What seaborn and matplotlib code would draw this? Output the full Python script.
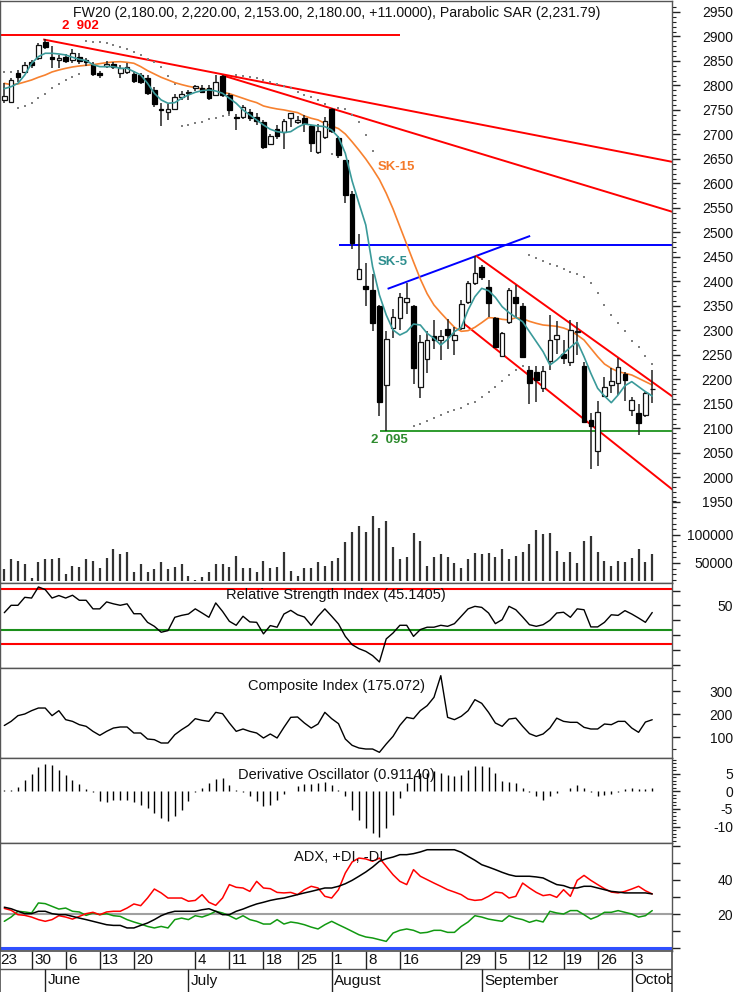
import numpy as np
import matplotlib
matplotlib.use("Agg")
import matplotlib.pyplot as plt
import seaborn as sns
from matplotlib.ticker import FixedLocator

# ---------------- data ----------------
opens = [2770, 2767, 2825, 2828, 2847, 2857, 2889, 2858, 2851, 2859,
         2853, 2858, 2851, 2842, 2826, 2840, 2843, 2826, 2828, 2824,
         2821, 2816, 2790, 2752, 2745, 2753, 2776, 2785, 2795, 2794,
         2794, 2781, 2819, 2781, 2735, 2735, 2746, 2735, 2726, 2681,
         2712, 2706, 2733, 2726, 2733, 2717, 2665, 2694, 2751, 2692,
         2647, 2578, 2405, 2390, 2383, 2349, 2189, 2305, 2325, 2359,
         2349, 2185, 2241, 2289, 2281, 2304, 2281, 2305, 2359, 2396,
         2430, 2388, 2325, 2248, 2318, 2368, 2350, 2219, 2215, 2182,
         2238, 2283, 2253, 2236, 2296, 2228, 2117, 2055, 2166, 2189,
         2193, 2211, 2138, 2132, 2128, 2180]
highs = [2806, 2815, 2832, 2848, 2851, 2886, 2894, 2881, 2862, 2865,
         2875, 2866, 2856, 2847, 2830, 2849, 2848, 2842, 2845, 2829,
         2826, 2821, 2796, 2765, 2763, 2782, 2789, 2791, 2800, 2800,
         2800, 2821, 2822, 2784, 2742, 2760, 2752, 2743, 2730, 2700,
         2720, 2732, 2743, 2737, 2740, 2720, 2722, 2735, 2755, 2696,
         2648, 2585, 2497, 2437, 2416, 2352, 2298, 2344, 2377, 2397,
         2352, 2291, 2298, 2321, 2302, 2324, 2308, 2362, 2402, 2453,
         2433, 2404, 2328, 2297, 2387, 2393, 2356, 2228, 2228, 2228,
         2332, 2320, 2280, 2321, 2318, 2236, 2131, 2157, 2206, 2223,
         2243, 2216, 2164, 2151, 2174, 2220]
lows = [2764, 2764, 2808, 2825, 2836, 2853, 2874, 2836, 2836, 2845,
        2846, 2843, 2840, 2819, 2815, 2836, 2834, 2815, 2823, 2806,
        2803, 2780, 2756, 2717, 2730, 2750, 2770, 2771, 2788, 2784,
        2771, 2778, 2776, 2742, 2709, 2731, 2727, 2719, 2670, 2678,
        2690, 2670, 2716, 2722, 2706, 2665, 2660, 2690, 2703, 2651,
        2560, 2466, 2403, 2349, 2299, 2125, 2095, 2284, 2300, 2333,
        2190, 2162, 2213, 2263, 2240, 2263, 2250, 2300, 2355, 2393,
        2404, 2328, 2264, 2246, 2314, 2328, 2243, 2151, 2155, 2175,
        2219, 2253, 2232, 2227, 2250, 2112, 2017, 2024, 2165, 2172,
        2169, 2156, 2126, 2087, 2123, 2153]
closes = [2779, 2811, 2817, 2842, 2842, 2883, 2879, 2854, 2857, 2850,
          2866, 2850, 2847, 2823, 2821, 2843, 2838, 2835, 2838, 2809,
          2808, 2785, 2763, 2750, 2751, 2776, 2783, 2787, 2798, 2787,
          2774, 2808, 2781, 2750, 2733, 2757, 2733, 2728, 2675, 2696,
          2696, 2728, 2743, 2729, 2723, 2683, 2708, 2728, 2707, 2658,
          2577, 2478, 2425, 2385, 2316, 2155, 2282, 2328, 2369, 2367,
          2223, 2277, 2280, 2280, 2289, 2291, 2290, 2355, 2396, 2417,
          2410, 2356, 2267, 2294, 2383, 2357, 2245, 2192, 2199, 2218,
          2280, 2290, 2243, 2301, 2299, 2114, 2105, 2134, 2185, 2196,
          2226, 2198, 2158, 2112, 2172, 2180]
sk5 = [2793.5, 2797.6, 2804.4, 2821.4, 2845.2, 2858.9, 2865.7, 2865.7, 2864.3, 2862.3,
       2857.5, 2853.4, 2850.7, 2842.5, 2838.4, 2838.4, 2838.4, 2835.0, 2835.0, 2828.3,
       2821.5, 2804.5, 2784.1, 2770.5, 2763.7, 2765.0, 2773.9, 2780.7, 2786.1, 2789.5,
       2790.9, 2788.8, 2784.1, 2773.9, 2763.7, 2750.0, 2739.9, 2729.6, 2719.4, 2710.6,
       2705.8, 2703.8, 2705.8, 2714.7, 2721.5, 2719.4, 2717.4, 2716.0, 2709.2, 2694.3,
       2661.6, 2605.0, 2559.5, 2515.3, 2430.2, 2372.4, 2331.6, 2301.0, 2290.8, 2297.6,
       2313.2, 2311.2, 2294.2, 2284.0, 2270.4, 2282.0, 2297.6, 2306.4, 2341.8, 2369.0,
       2386.0, 2381.3, 2367.7, 2348.6, 2336.4, 2326.9, 2318.0, 2297.6, 2277.2, 2256.8,
       2229.6, 2239.8, 2253.4, 2265.6, 2277.2, 2246.6, 2212.6, 2182.0, 2166.3, 2152.7,
       2168.4, 2187.4, 2195.6, 2185.4, 2175.2, 2166.3]
sk15 = [2804.4, 2801.7, 2803.1, 2807.1, 2811.2, 2816.7, 2821.4, 2827.6, 2831.6, 2835.0,
        2837.8, 2839.8, 2841.2, 2842.5, 2844.6, 2846.6, 2848.0, 2848.6, 2847.3, 2845.3,
        2838.5, 2830.3, 2823.5, 2816.7, 2811.3, 2805.8, 2801.8, 2798.3, 2795.6, 2792.9,
        2790.9, 2788.2, 2786.1, 2783.4, 2778.6, 2773.9, 2769.1, 2765.0, 2758.2, 2754.8,
        2752.1, 2750.1, 2747.3, 2744.6, 2737.8, 2733.1, 2729.7, 2722.8, 2717.4, 2712.0,
        2701, 2685, 2668, 2650, 2630, 2608, 2580, 2548, 2512, 2476,
        2440, 2405, 2375, 2352, 2336, 2321, 2306.5, 2298.3, 2299.7, 2306.5,
        2316, 2326.2, 2325.5, 2322.8, 2321.4, 2326.2, 2324.2, 2318.7, 2314.6, 2311.2,
        2309.9, 2308.5, 2305.1, 2299.7, 2290.8, 2280.6, 2263.6, 2246.6, 2231.6, 2222.8,
        2216, 2212.6, 2209.2, 2202.4, 2195.6, 2188.8]
nan = float("nan")
sar = [2828, 2828, 2755, 2758, 2764, 2774, 2783, 2794, 2804, 2811,
       2818, 2824, 2890, 2889, 2888, 2886, 2883, 2879, 2874, 2868,
       2862, 2855, 2848, 2838, 2820, 2803, 2718, 2719, 2723, 2726,
       2731, 2734, 2737, 2739, 2821, 2820, 2818, 2815, 2811, 2808,
       2803, 2799, 2794, 2787, 2781, 2777, 2770, 2763, 2660, 2755,
       2751, 2740, 2726, 2699, 2667, nan, nan, nan, nan, nan,
       2105, 2110, 2116, 2122, 2127, 2134, 2138, 2141, 2149, 2155,
       2165, 2175, 2185, 2196, 2209, 2219, 2228, 2454, 2447, 2442,
       2436, 2432, 2425, 2420, 2415, 2410, 2396, 2376, 2352, 2332,
       2316, 2298, 2279, 2266, 2248, 2232]
volume = [38700, 56600, 54200, 48200, 22600, 52300, 56600, 56600, 58300, 30400,
          45200, 43400, 56600, 54200, 40500, 58300, 74400, 66100, 70200, 34500,
          48200, 34500, 39300, 52300, 39300, 43400, 48200, 27300, 19600, 25500,
          34500, 48200, 48200, 43400, 63100, 40500, 40500, 34500, 54200, 40500,
          43400, 70200, 36300, 27300, 40500, 40500, 52300, 45200, 54200, 58300,
          86900, 104800, 116100, 104800, 133900, 112000, 125000, 78000, 56600, 60200,
          103000, 89300, 45200, 60200, 65500, 60200, 49500, 40500, 56600, 67300,
          65500, 67300, 60200, 74400, 56600, 63100, 69100, 83400, 108900, 101200,
          103000, 71400, 51200, 69100, 49500, 89300, 98200, 69100, 54200, 45200,
          54200, 52300, 58300, 74400, 51200, 65500]
rsi = [45.0, 50.0, 50.0, 55.4, 54.9, 62.4, 60.6, 54.9, 56.6, 54.9,
       56.8, 53.4, 53.4, 47.6, 47.6, 52.3, 51.0, 50.0, 51.0, 44.3,
       44.3, 38.5, 35.8, 31.8, 32.9, 41.9, 43.2, 44.1, 47.6, 44.8,
       41.9, 51.6, 45.9, 39.2, 36.5, 42.6, 38.8, 38.5, 30.7, 36.3,
       35.2, 44.1, 46.6, 43.6, 42.1, 36.5, 42.6, 47.6, 42.6, 37.4,
       29.0, 23.4, 20.7, 18.9, 16.0, 11.7, 27.3, 31.3, 36.5, 36.5,
       29.0, 33.6, 35.2, 35.2, 36.5, 35.8, 37.6, 42.6, 47.6, 49.3,
       48.6, 44.8, 37.6, 40.3, 49.3, 47.0, 42.1, 36.9, 35.8, 36.9,
       39.9, 44.8, 45.3, 41.9, 47.6, 47.0, 35.4, 35.4, 38.5, 43.6,
       43.2, 46.4, 44.1, 41.4, 38.5, 45.14]
composite = [150, 168, 192.8, 200, 214.5, 226, 226, 192.8, 214.5, 175.4,
             168, 153.6, 146.4, 124.6, 107.2, 124.6, 139, 143.5, 143.5, 117.4,
             117.4, 91.3, 88.4, 73.9, 73.9, 110, 131.9, 150.7, 179.7, 172.5,
             168, 207.2, 201.4, 160.9, 124.6, 134.8, 124.6, 117.4, 95.7, 113.1,
             95.7, 142, 185.5, 187, 160.9, 139, 156.5, 207.2, 179.7, 158,
             91.3, 63.8, 52.2, 47.8, 47.8, 33.3, 69.6, 102.9, 150.7, 185.5,
             179.7, 214.5, 236.2, 272.5, 366.7, 185.5, 175.4, 190, 214.5, 262.3,
             246.4, 207.2, 160.9, 146.4, 178, 182, 146.4, 114.5, 102.9, 113.1,
             139, 182, 168, 163.8, 163.8, 142, 134.8, 134.8, 156.5, 153.6,
             168, 168, 139, 120.3, 165, 175.07]
deriv = [0.3, 0.5, 1.1, 3.3, 4.9, 6.9, 7.7, 7.4, 6.1, 4.5,
         3.3, 2.1, 0.7, -0.2, -2.8, -3.0, -2.6, -2.5, -2.6, -3.1,
         -3.8, -4.7, -6.1, -7.6, -8.3, -7.1, -5.2, -2.8, -0.2, 0.9,
         2.4, 3.5, 3.8, 1.9, 0.3, -0.3, -1.4, -2.8, -4.2, -3.8,
         -2.4, -0.8, 0.2, 1.4, 2.2, 2.2, 2.4, 2.5, 1.7, 0.3,
         -1.4, -5.2, -8.0, -10.4, -11.8, -12.9, -10.4, -6.6, -1.9, 2.4,
         4.2, 5.2, 5.2, 5.7, 5.2, 4.7, 4.2, 4.7, 5.9, 7.1,
         7.1, 6.8, 5.2, 2.8, 2.6, 2.4, 0.9, -0.3, -1.4, -2.6,
         -1.2, -0.5, 0.0, 0.8, 1.9, 0.8, -0.2, -1.4, -1.1, -0.8,
         -0.2, 0.7, 0.8, 0.7, 0.7, 0.9114]
adx = [24.0, 23.1, 21.6, 20.2, 20.2, 21.6, 21.6, 20.2, 19.6, 19.6,
       18.6, 17.6, 16.7, 15.7, 14.7, 13.7, 13.3, 13.3, 11.8, 11.8,
       13.3, 14.7, 16.7, 19.0, 20.6, 21.6, 21.6, 21.6, 21.6, 22.5,
       23.1, 21.6, 19.6, 19.6, 21.6, 22.9, 24.5, 25.9, 26.9, 28.0,
       28.8, 29.4, 30.4, 31.4, 32.4, 33.3, 34.3, 35.3, 35.3, 36.3,
       37.8, 39.8, 42.2, 44.7, 47.6, 51.0, 52.5, 53.5, 54.9, 54.9,
       55.5, 56.5, 57.8, 57.8, 57.8, 57.8, 57.8, 56.3, 53.9, 51.6,
       49.0, 47.6, 46.1, 44.5, 43.1, 42.2, 42.2, 42.2, 41.8, 41.2,
       39.2, 37.3, 36.7, 35.3, 35.3, 36.3, 36.3, 35.3, 34.3, 33.3,
       32.9, 32.4, 32.4, 32.4, 32.4, 31.8]
plus_di = [23.3, 22.2, 19.6, 19.2, 18.2, 16.7, 15.7, 16.7, 19.0, 18.2,
           17.0, 18.6, 20.2, 21.0, 19.6, 21.2, 21.6, 21.6, 23.5, 25.9,
           24.9, 29.4, 34.7, 32.4, 29.4, 29.4, 29.4, 27.5, 28.0, 31.4,
           26.9, 25.1, 29.4, 37.3, 35.7, 35.3, 33.3, 39.2, 35.3, 34.9,
           32.7, 32.4, 32.7, 31.4, 34.3, 36.3, 35.3, 30.4, 29.4, 34.3,
           44.1, 50.6, 52.9, 52.4, 51.0, 52.9, 48.0, 43.1, 39.2, 37.3,
           46.1, 42.2, 40.2, 38.2, 36.3, 34.3, 32.9, 31.4, 28.8, 28.0,
           28.4, 30.4, 32.9, 32.4, 29.4, 30.4, 38.2, 35.3, 32.7, 30.8,
           31.4, 29.8, 34.3, 30.4, 39.8, 42.7, 39.8, 37.3, 34.9, 32.9,
           32.4, 33.3, 34.7, 36.3, 33.7, 31.8]
minus_di = [15.7, 18.2, 21.6, 21.2, 20.6, 26.5, 26.1, 24.5, 22.9, 23.5,
            21.6, 21.2, 19.2, 20.6, 19.6, 20.2, 19.0, 18.6, 16.7, 15.3,
            14.1, 12.7, 11.8, 12.7, 11.8, 16.7, 17.6, 16.7, 19.0, 18.2,
            19.6, 21.6, 20.6, 19.0, 17.0, 19.0, 16.7, 15.7, 14.1, 14.1,
            16.7, 14.1, 15.3, 14.7, 13.7, 12.3, 11.2, 13.7, 15.7, 13.7,
            11.8, 9.8, 7.8, 6.5, 5.9, 4.9, 3.9, 8.8, 10.4, 11.2,
            10.4, 8.8, 9.2, 10.4, 10.4, 9.2, 9.2, 12.7, 15.3, 19.0,
            18.2, 17.0, 16.3, 15.7, 19.0, 17.6, 16.7, 15.1, 16.3, 15.3,
            21.6, 20.6, 20.0, 22.0, 22.0, 19.6, 17.0, 18.6, 21.0, 21.0,
            22.0, 21.0, 20.0, 18.2, 19.0, 22.0]

# week / month axis labels (candle index of the labelled day)
day_labels = ['23', '30', '6', '13', '20', '4', '11', '18', '25', '1', '8', '16',
              '29', '5', '12', '19', '26', '3']
day_pos = [-1, 4, 9, 14, 19, 28, 33, 38, 43, 48, 53, 58, 67, 72, 77, 82, 87, 92]
month_labels = ['June', 'July', 'August', 'September', 'October']
month_pos = [6, 27, 48, 70, 92]

# drawn trend lines: (x0, y0, x1, y1, colour)
trend_lines = [
    (-0.7, 2902, 58.0, 2902, '#ff0000'),
    (5.7, 2894, 98.0, 2644, '#ff0000'),
    (31.9, 2821, 98.0, 2542, '#ff0000'),
    (49.1, 2475, 98.0, 2475, '#0000ff'),
    (56.2, 2385, 77.1, 2493, '#0000ff'),
    (69.1, 2453, 98.0, 2165, '#ff0000'),
    (67.3, 2315, 98.0, 1975, '#ff0000'),
    (55.1, 2095, 98.0, 2095, '#2e9b2e'),
]

title_main = "FW20 (2,180.00, 2,220.00, 2,153.00, 2,180.00, +11.0000), Parabolic SAR (2,231.79)"

# ---------------- plotting ----------------
sns.set_theme(style="white")
plt.rcParams['font.family'] = ['Liberation Sans', 'DejaVu Sans']

W, H = 739, 992
fig = plt.figure(figsize=(W / 100, H / 100), dpi=100)
XL = (-0.63, 97.9)
FS = 10          # tick labels
FT = 10.5        # panel titles
FX = 11          # date axis
TL = 6.0
PAD = 61 * 0.72 - TL
FRAME = '#555555'


def add_ax(top, bottom):
    return fig.add_axes([0, 1 - bottom / H, 672 / W, (bottom - top) / H])


def style(ax, ylim, major, labels, minor=None):
    ax.set_xlim(*XL)
    ax.set_ylim(*ylim)
    ax.set_xticks([])
    ax.yaxis.tick_right()
    ax.yaxis.set_major_locator(FixedLocator(major))
    ax.set_yticklabels(labels)
    if minor is not None:
        ax.yaxis.set_minor_locator(FixedLocator(minor))
    ax.tick_params(axis='y', which='major', direction='out', length=TL, width=1,
                   color='#222222', labelcolor='#111111', labelsize=FS, pad=PAD)
    ax.tick_params(axis='y', which='minor', direction='out', length=3, width=0.8,
                   color='#222222')
    for t in ax.get_yticklabels():
        t.set_horizontalalignment('right')
    for s in ax.spines.values():
        s.set_color(FRAME)
        s.set_linewidth(1)
    ax.set_xlabel('')
    ax.set_ylabel('')


idx = np.arange(len(opens))
o = np.array(opens, float)
c = np.array(closes, float)
h = np.array(highs, float)
l = np.array(lows, float)

# --- main price panel
ax = add_ax(1, 583)
for x0, y0, x1, y1, col in trend_lines:
    ax.plot([x0, x1], [y0, y1], color=col, lw=1.4, zorder=2, solid_capstyle='butt')
ax.scatter(idx, sar, s=2.2, color='#808080', marker='s', linewidths=0, zorder=2)
sns.lineplot(x=idx, y=sk15, ax=ax, color='#f7812f', linewidth=1.2, zorder=3)
sns.lineplot(x=idx, y=sk5, ax=ax, color='#3a9a9a', linewidth=1.2, zorder=6)
ax.vlines(idx, l, h, color='#222222', lw=1.1, zorder=4)
up = c >= o
bot = np.minimum(o, c)
hgt = np.maximum(np.abs(c - o), 1.5)
ax.bar(idx[up], hgt[up], bottom=bot[up], width=0.68, color='white',
       edgecolor='#111111', linewidth=0.9, zorder=5)
ax.bar(idx[~up], hgt[~up], bottom=bot[~up], width=0.68, color='black',
       edgecolor='black', linewidth=0.9, zorder=5)
pmaj = list(range(1950, 2951, 50))
style(ax, (1784.7, 2972.4), pmaj, [str(v) for v in pmaj], list(range(1940, 2961, 10)))

# volume overlay in the lower part of the main panel
axv = fig.add_axes([0, 1 - 581 / H, 672 / W, 81 / H])
axv.patch.set_alpha(0)
axv.vlines(idx, 0, volume, color='#333333', lw=1.6)
style(axv, (17857, 162500), [50000, 100000], ['50000', '100000'],
      list(range(20000, 160001, 10000)))
for s in axv.spines.values():
    s.set_visible(False)

fig.text(73 / W, 1 - 13.5 / H, title_main, ha='left', va='center', fontsize=10.2,
         color='#111111')
fig.text(62 / W, 1 - 26 / H, '2  902', ha='left', va='center', fontsize=9.5,
         color='#ff0000', fontweight='bold')
fig.text(371 / W, 1 - 440 / H, '2  095', ha='left', va='center', fontsize=9.5,
         color='#2e8b2e', fontweight='bold')
fig.text(378 / W, 1 - 167 / H, 'SK-15', ha='left', va='center', fontsize=9.5,
         color='#f47a2a', fontweight='bold')
fig.text(378 / W, 1 - 262 / H, 'SK-5', ha='left', va='center', fontsize=9.5,
         color='#2f8f8f', fontweight='bold')

# --- RSI
axr = add_ax(583, 668)
axr.axhline(61, color='#ff0000', lw=1.5)
axr.axhline(24, color='#ff0000', lw=1.5)
axr.axhline(33, color='#1a8f1a', lw=1.5)
sns.lineplot(x=idx, y=rsi, ax=axr, color='black', linewidth=1.0)
style(axr, (7.64, 65.07), [10, 20, 30, 40, 50, 60], ['', '', '', '', '50', ''])
fig.text(336 / W, 1 - 595 / H, 'Relative Strength Index (45.1405)', ha='center',
         va='center', fontsize=FT, color='#111111')

# --- Composite index
axc = add_ax(668, 758)
sns.lineplot(x=idx, y=composite, ax=axc, color='black', linewidth=1.0)
style(axc, (8.7, 400), [100, 200, 300], ['100', '200', '300'], [50, 150, 250, 350])
fig.text(336 / W, 1 - 686 / H, 'Composite Index (175.072)', ha='center', va='center',
         fontsize=FT, color='#111111')

# --- Derivative oscillator
axd = add_ax(758, 843)
axd.vlines(idx, 0, deriv, color='black', lw=1.0)
style(axd, (-14.65, 9.43), [-10, -5, 0, 5], ['-10', '-5', '0', '5'], list(range(-14, 10)))
fig.text(336 / W, 1 - 775 / H, 'Derivative Oscillator (0.91140)', ha='center',
         va='center', fontsize=FT, color='#111111')

# --- ADX
axa = add_ax(843, 951)
axa.axhline(20, color='#a0a0a0', lw=1.5)
axa.axhline(0, color='#3050ff', lw=2.2)
sns.lineplot(x=idx, y=minus_di, ax=axa, color='#119911', linewidth=1.1)
sns.lineplot(x=idx, y=plus_di, ax=axa, color='#ff0000', linewidth=1.1)
sns.lineplot(x=idx, y=adx, ax=axa, color='black', linewidth=1.1)
style(axa, (-1.76, 61.76), [0, 10, 20, 30, 40, 50, 60], ['', '', '20', '', '40', '', ''])
fig.text(339 / W, 1 - 857 / H, 'ADX, +DI, -DI', ha='center', va='center',
         fontsize=FT, color='#111111')

# --- date axis (two rows)
axx = add_ax(951, 992)
axx.set_xlim(*XL)
axx.set_ylim(0, 1)
axx.set_xticks([])
axx.set_yticks([])
for s in axx.spines.values():
    s.set_color(FRAME)
axx.spines['bottom'].set_visible(False)
row = 23 / 41
axx.axhline(row, color=FRAME, lw=1)
axx.vlines(day_pos, row, 1, color='#222222', lw=1)
axx.vlines(month_pos, 0, row, color='#222222', lw=1)
for p, t in zip(day_pos, day_labels):
    axx.text(p + 0.37, (1 + row) / 2, t, ha='left', va='center', fontsize=FX,
             color='#111111', clip_on=True)
for p, t in zip(month_pos, month_labels):
    axx.text(p + 0.37, row / 2, t, ha='left', va='center', fontsize=FX,
             color='#111111', clip_on=True)

fig.savefig('out.png', dpi=100)
